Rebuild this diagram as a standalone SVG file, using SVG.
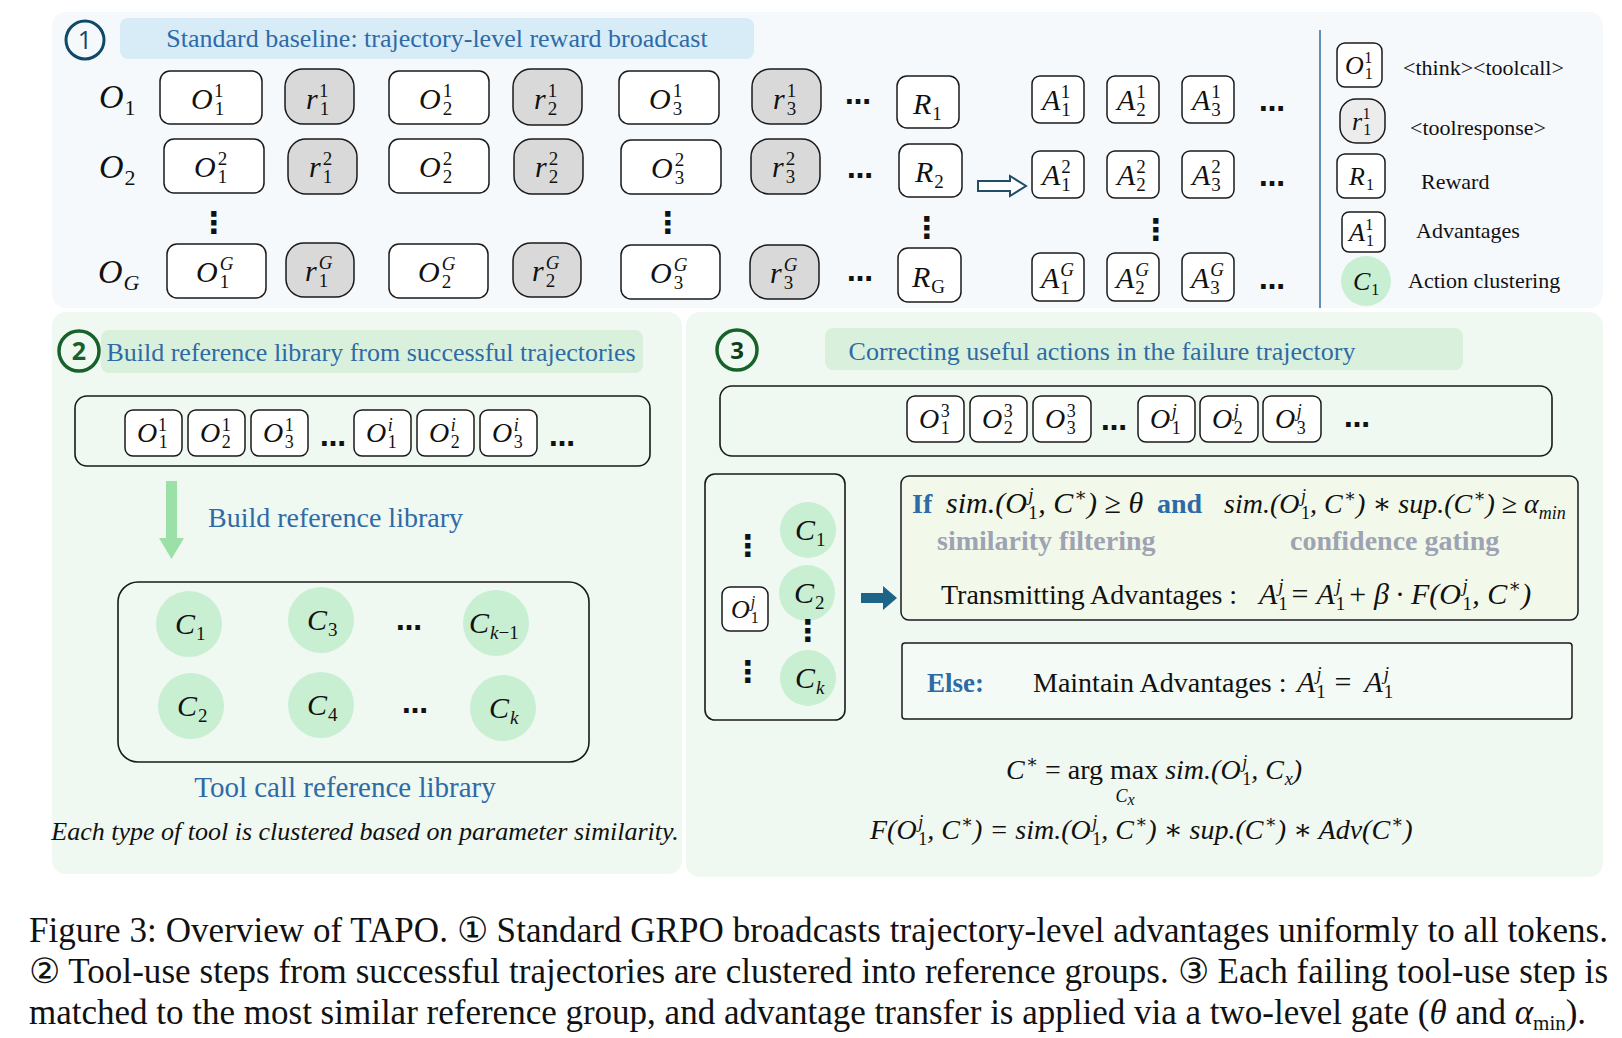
<svg xmlns="http://www.w3.org/2000/svg" width="1622" height="1038" viewBox="0 0 1622 1038">
<defs>
<style>
.t{font-family:"Liberation Serif","DejaVu Serif",serif;fill:#111;}
.m{font-family:"Liberation Serif","DejaVu Serif",serif;font-style:italic;fill:#111;}
.u{font-style:normal;}
.i{font-style:italic;}
.blue{fill:#2e6aa6;}
.bb{font-weight:bold;fill:#2e6aa6;}
.gray{font-weight:bold;fill:#9ea3b3;}
.f35{font-size:35px}.f34{font-size:34px}.f32{font-size:32px}.f30{font-size:30px}.f29{font-size:29px}.f28{font-size:28px}.f27{font-size:27px}.f26{font-size:26px}.f22{font-size:22px}.f21{font-size:21px}.f20{font-size:20px}.f19{font-size:19px}.f18{font-size:18px}.f17{font-size:17px}.f16{font-size:16px}
.box{fill:#fff;stroke:#1a1a1a;stroke-width:1.5;}
.rbox{fill:#d9d9d9;stroke:#1a1a1a;stroke-width:1.5;}
.lbox{fill:#ececec;stroke:#1a1a1a;stroke-width:1.5;}
.frame{fill:none;stroke:#1a1a1a;stroke-width:1.6;}
.cl{fill:#c8efd2;}
.dots{font-family:"DejaVu Sans",sans-serif;font-weight:bold;font-size:26px;fill:#111;}
.vd{font-family:"DejaVu Sans",sans-serif;font-weight:bold;font-size:30px;fill:#111;}
</style>
</defs>

<!-- panels -->
<rect x="52" y="12" width="1551" height="296" rx="14" fill="#f6f9fc"/>
<rect x="52" y="312" width="630" height="562" rx="14" fill="#eff8f1"/>
<rect x="686" y="312" width="917" height="565" rx="14" fill="#eff8f1"/>

<!-- panel 1 header -->
<g id="step1">
<circle cx="85" cy="40" r="19" fill="none" stroke="#0e4a68" stroke-width="3"/>
<text x="85" y="49" text-anchor="middle" font-family="Open Sans, sans-serif" font-size="25" fill="#0e4a68">1</text>
</g>
<g id="title1">
<rect x="120" y="18" width="634" height="41" rx="8" fill="#d8ecf8"/>
<text class="t blue f26" x="437" y="47" text-anchor="middle">Standard baseline: trajectory-level reward broadcast</text>
</g>

<!-- row labels -->
<g id="lab1"><text class="m f34" x="99" y="108">O<tspan class="u f22" dx="1" dy="7">1</tspan></text></g>
<g id="lab2"><text class="m f34" x="99" y="178">O<tspan class="u f22" dx="1" dy="7">2</tspan></text></g>
<g id="labG"><text class="m f34" x="98" y="283">O<tspan class="f22" dx="1" dy="7">G</tspan></text></g>

<!-- row 1 -->
<g id="o11"><rect class="box" x="160" y="71" width="102" height="53" rx="10"/><text class="m f30" x="191" y="109">O<tspan class="u f19" dx="2" dy="6">1</tspan><tspan class="u f19" dx="-9.5" dy="-18">1</tspan></text></g>
<g id="r11"><rect class="rbox" x="285" y="69" width="69" height="55" rx="18"/><text class="m f30" x="306" y="109">r<tspan class="u f19" dx="2" dy="6">1</tspan><tspan class="u f19" dx="-9.5" dy="-18">1</tspan></text></g>
<g id="o21"><rect class="box" x="389" y="71" width="100" height="53" rx="10"/><text class="m f30" x="419" y="109">O<tspan class="u f19" dx="2" dy="6">2</tspan><tspan class="u f19" dx="-9.5" dy="-18">1</tspan></text></g>
<g id="r21"><rect class="rbox" x="513" y="69" width="69" height="56" rx="18"/><text class="m f30" x="534" y="109">r<tspan class="u f19" dx="2" dy="6">2</tspan><tspan class="u f19" dx="-9.5" dy="-18">1</tspan></text></g>
<g id="o31"><rect class="box" x="619" y="71" width="100" height="53" rx="10"/><text class="m f30" x="649" y="109">O<tspan class="u f19" dx="2" dy="6">3</tspan><tspan class="u f19" dx="-9.5" dy="-18">1</tspan></text></g>
<g id="r31"><rect class="rbox" x="752" y="69" width="69" height="55" rx="18"/><text class="m f30" x="773" y="109">r<tspan class="u f19" dx="2" dy="6">3</tspan><tspan class="u f19" dx="-9.5" dy="-18">1</tspan></text></g>
<text class="dots" x="858" y="104" text-anchor="middle">…</text>
<g id="R1"><rect class="box" x="897" y="76" width="62" height="52" rx="10"/><text class="m f30" x="913" y="114">R<tspan class="u f19" dx="1" dy="6">1</tspan></text></g>
<g id="a11"><rect class="box" x="1032" y="76" width="52" height="47" rx="8"/><text class="m f30" x="1042" y="110">A<tspan class="u f19" dx="1" dy="6">1</tspan><tspan class="u f19" dx="-9.5" dy="-18">1</tspan></text></g>
<g id="a21"><rect class="box" x="1107" y="76" width="52" height="47" rx="8"/><text class="m f30" x="1117" y="110">A<tspan class="u f19" dx="1" dy="6">2</tspan><tspan class="u f19" dx="-9.5" dy="-18">1</tspan></text></g>
<g id="a31"><rect class="box" x="1182" y="76" width="52" height="47" rx="8"/><text class="m f30" x="1192" y="110">A<tspan class="u f19" dx="1" dy="6">3</tspan><tspan class="u f19" dx="-9.5" dy="-18">1</tspan></text></g>
<text class="dots" x="1272" y="111" text-anchor="middle">…</text>

<!-- row 2 -->
<g id="o12"><rect class="box" x="164" y="139" width="100" height="54" rx="10"/><text class="m f30" x="194" y="177">O<tspan class="u f19" dx="2" dy="6">1</tspan><tspan class="u f19" dx="-9.5" dy="-18">2</tspan></text></g>
<g id="r12"><rect class="rbox" x="288" y="139" width="69" height="55" rx="18"/><text class="m f30" x="309" y="177">r<tspan class="u f19" dx="2" dy="6">1</tspan><tspan class="u f19" dx="-9.5" dy="-18">2</tspan></text></g>
<g id="o22"><rect class="box" x="389" y="139" width="100" height="54" rx="10"/><text class="m f30" x="419" y="177">O<tspan class="u f19" dx="2" dy="6">2</tspan><tspan class="u f19" dx="-9.5" dy="-18">2</tspan></text></g>
<g id="r22"><rect class="rbox" x="514" y="139" width="69" height="55" rx="18"/><text class="m f30" x="535" y="177">r<tspan class="u f19" dx="2" dy="6">2</tspan><tspan class="u f19" dx="-9.5" dy="-18">2</tspan></text></g>
<g id="o32"><rect class="box" x="621" y="140" width="100" height="54" rx="10"/><text class="m f30" x="651" y="178">O<tspan class="u f19" dx="2" dy="6">3</tspan><tspan class="u f19" dx="-9.5" dy="-18">2</tspan></text></g>
<g id="r32"><rect class="rbox" x="751" y="139" width="69" height="55" rx="18"/><text class="m f30" x="772" y="177">r<tspan class="u f19" dx="2" dy="6">3</tspan><tspan class="u f19" dx="-9.5" dy="-18">2</tspan></text></g>
<text class="dots" x="860" y="178" text-anchor="middle">…</text>
<g id="R2"><rect class="box" x="899" y="144" width="63" height="53" rx="10"/><text class="m f30" x="915" y="182">R<tspan class="u f19" dx="1" dy="6">2</tspan></text></g>
<g id="a12"><rect class="box" x="1032" y="151" width="52" height="47" rx="8"/><text class="m f30" x="1042" y="185">A<tspan class="u f19" dx="1" dy="6">1</tspan><tspan class="u f19" dx="-9.5" dy="-18">2</tspan></text></g>
<g id="a22"><rect class="box" x="1107" y="151" width="52" height="47" rx="8"/><text class="m f30" x="1117" y="185">A<tspan class="u f19" dx="1" dy="6">2</tspan><tspan class="u f19" dx="-9.5" dy="-18">2</tspan></text></g>
<g id="a32"><rect class="box" x="1182" y="151" width="52" height="47" rx="8"/><text class="m f30" x="1192" y="185">A<tspan class="u f19" dx="1" dy="6">3</tspan><tspan class="u f19" dx="-9.5" dy="-18">2</tspan></text></g>
<text class="dots" x="1272" y="186" text-anchor="middle">…</text>

<!-- vertical dots -->
<text class="vd" x="214" y="233" text-anchor="middle">⋮</text>
<text class="vd" x="668" y="233" text-anchor="middle">⋮</text>
<text class="vd" x="927" y="238" text-anchor="middle">⋮</text>
<text class="vd" x="1156" y="240" text-anchor="middle">⋮</text>

<!-- row G -->
<g id="o1G"><rect class="box" x="167" y="244" width="99" height="54" rx="10"/><text class="m f30" x="196" y="282">O<tspan class="u f19" dx="2" dy="6">1</tspan><tspan class="f19" dx="-9.5" dy="-18">G</tspan></text></g>
<g id="r1G"><rect class="rbox" x="286" y="243" width="68" height="54" rx="18"/><text class="m f30" x="305" y="281">r<tspan class="u f19" dx="2" dy="6">1</tspan><tspan class="f19" dx="-9.5" dy="-18">G</tspan></text></g>
<g id="o2G"><rect class="box" x="389" y="244" width="99" height="54" rx="10"/><text class="m f30" x="418" y="282">O<tspan class="u f19" dx="2" dy="6">2</tspan><tspan class="f19" dx="-9.5" dy="-18">G</tspan></text></g>
<g id="r2G"><rect class="rbox" x="513" y="243" width="68" height="54" rx="18"/><text class="m f30" x="532" y="281">r<tspan class="u f19" dx="2" dy="6">2</tspan><tspan class="f19" dx="-9.5" dy="-18">G</tspan></text></g>
<g id="o3G"><rect class="box" x="621" y="245" width="99" height="54" rx="10"/><text class="m f30" x="650" y="283">O<tspan class="u f19" dx="2" dy="6">3</tspan><tspan class="f19" dx="-9.5" dy="-18">G</tspan></text></g>
<g id="r3G"><rect class="rbox" x="750" y="245" width="69" height="54" rx="18"/><text class="m f30" x="770" y="283">r<tspan class="u f19" dx="2" dy="6">3</tspan><tspan class="f19" dx="-9.5" dy="-18">G</tspan></text></g>
<text class="dots" x="860" y="281" text-anchor="middle">…</text>
<g id="RG"><rect class="box" x="898" y="248" width="63" height="54" rx="10"/><text class="m f30" x="912" y="287">R<tspan class="u f19" dx="1" dy="6">G</tspan></text></g>
<g id="a1G"><rect class="box" x="1032" y="253" width="52" height="48" rx="8"/><text class="m f30" x="1041" y="288">A<tspan class="u f19" dx="1" dy="6">1</tspan><tspan class="f19" dx="-9.5" dy="-18">G</tspan></text></g>
<g id="a2G"><rect class="box" x="1107" y="253" width="52" height="48" rx="8"/><text class="m f30" x="1116" y="288">A<tspan class="u f19" dx="1" dy="6">2</tspan><tspan class="f19" dx="-9.5" dy="-18">G</tspan></text></g>
<g id="a3G"><rect class="box" x="1182" y="253" width="52" height="48" rx="8"/><text class="m f30" x="1191" y="288">A<tspan class="u f19" dx="1" dy="6">3</tspan><tspan class="f19" dx="-9.5" dy="-18">G</tspan></text></g>
<text class="dots" x="1272" y="289" text-anchor="middle">…</text>

<!-- separator -->
<line x1="1320" y1="30" x2="1320" y2="308" stroke="#2e6da4" stroke-width="1.5"/>

<!-- legend -->
<g id="legO"><rect class="box" x="1337" y="43" width="45" height="44" rx="8"/><text class="m f26" x="1345" y="74">O<tspan class="u f16" dx="1" dy="5">1</tspan><tspan class="u f16" dx="-8" dy="-16">1</tspan></text><text class="t f22" x="1403" y="75">&lt;think&gt;&lt;toolcall&gt;</text></g>
<g id="legr"><rect class="lbox" x="1340" y="99" width="45" height="44" rx="16"/><text class="m f26" x="1352" y="130">r<tspan class="u f16" dx="1" dy="5">1</tspan><tspan class="u f16" dx="-8" dy="-16">1</tspan></text><text class="t f22" x="1410" y="135">&lt;toolresponse&gt;</text></g>
<g id="legR"><rect class="box" x="1337" y="154" width="48" height="44" rx="8"/><text class="m f26" x="1349" y="185">R<tspan class="u f16" dx="1" dy="5">1</tspan></text><text class="t f22" x="1421" y="189">Reward</text></g>
<g id="legA"><rect class="box" x="1342" y="212" width="43" height="40" rx="7"/><text class="m f26" x="1349" y="241">A<tspan class="u f16" dx="1" dy="5">1</tspan><tspan class="u f16" dx="-8" dy="-16">1</tspan></text><text class="t f22" x="1416" y="238">Advantages</text></g>
<g id="legC"><circle class="cl" cx="1366" cy="281" r="25"/><text class="m f26" x="1353" y="290">C<tspan class="u f16" dx="1" dy="5">1</tspan></text><text class="t f22" x="1408" y="288">Action clustering</text></g>

<!-- panel 2 -->
<g id="step2">
<circle cx="79" cy="351" r="20" fill="none" stroke="#17622a" stroke-width="3.5"/>
<text x="79" y="360" text-anchor="middle" font-family="Open Sans, sans-serif" font-weight="bold" font-size="25" fill="#17622a">2</text>
</g>
<g id="title2">
<rect x="101" y="330" width="542" height="43" rx="8" fill="#d9f1dc"/>
<text class="t blue f26" x="371" y="361" text-anchor="middle">Build reference library from successful trajectories</text>
</g>
<g id="seq2">
<rect class="frame" x="75" y="396" width="575" height="70" rx="12"/>
<g id="s2a"><rect class="box" x="125" y="410" width="57" height="46" rx="8"/><text class="m f28" x="137" y="442">O<tspan class="u f18" dx="1.5" dy="6">1</tspan><tspan class="u f18" dx="-9" dy="-17">1</tspan></text></g>
<g id="s2b"><rect class="box" x="188" y="410" width="57" height="46" rx="8"/><text class="m f28" x="200" y="442">O<tspan class="u f18" dx="1.5" dy="6">2</tspan><tspan class="u f18" dx="-9" dy="-17">1</tspan></text></g>
<g id="s2c"><rect class="box" x="251" y="410" width="57" height="46" rx="8"/><text class="m f28" x="263" y="442">O<tspan class="u f18" dx="1.5" dy="6">3</tspan><tspan class="u f18" dx="-9" dy="-17">1</tspan></text></g>
<text class="dots" x="333" y="446" text-anchor="middle">…</text>
<g id="s2d"><rect class="box" x="354" y="410" width="57" height="46" rx="8"/><text class="m f28" x="366" y="442">O<tspan class="u f18" dx="1.5" dy="6">1</tspan><tspan class="f18" dx="-9" dy="-17">i</tspan></text></g>
<g id="s2e"><rect class="box" x="417" y="410" width="57" height="46" rx="8"/><text class="m f28" x="429" y="442">O<tspan class="u f18" dx="1.5" dy="6">2</tspan><tspan class="f18" dx="-9" dy="-17">i</tspan></text></g>
<g id="s2f"><rect class="box" x="480" y="410" width="57" height="46" rx="8"/><text class="m f28" x="492" y="442">O<tspan class="u f18" dx="1.5" dy="6">3</tspan><tspan class="f18" dx="-9" dy="-17">i</tspan></text></g>
<text class="dots" x="562" y="446" text-anchor="middle">…</text>
</g>
<text class="t blue f28" x="208" y="527">Build reference library</text>
<g id="library">
<rect class="frame" x="118" y="582" width="471" height="180" rx="20"/>
<g id="c1"><circle class="cl" cx="189" cy="624" r="33"/><text class="m f30" x="175" y="634">C<tspan class="u f19" dx="1" dy="6">1</tspan></text></g>
<g id="c3"><circle class="cl" cx="321" cy="620" r="33"/><text class="m f30" x="307" y="630">C<tspan class="u f19" dx="1" dy="6">3</tspan></text></g>
<text class="dots" x="409" y="630" text-anchor="middle">…</text>
<g id="ck1"><circle class="cl" cx="496" cy="623" r="33"/><text class="m f30" x="469" y="633">C<tspan class="f19" dx="1" dy="6">k</tspan><tspan class="u f19">−1</tspan></text></g>
<g id="c2"><circle class="cl" cx="191" cy="706" r="33"/><text class="m f30" x="177" y="716">C<tspan class="u f19" dx="1" dy="6">2</tspan></text></g>
<g id="c4"><circle class="cl" cx="321" cy="705" r="33"/><text class="m f30" x="307" y="715">C<tspan class="u f19" dx="1" dy="6">4</tspan></text></g>
<text class="dots" x="415" y="713" text-anchor="middle">…</text>
<g id="ck"><circle class="cl" cx="503" cy="708" r="33"/><text class="m f30" x="489" y="718">C<tspan class="f19" dx="1" dy="6">k</tspan></text></g>
</g>
<text class="t blue f29" x="345" y="797" text-anchor="middle">Tool call reference library</text>
<text class="m" font-size="26" x="365" y="840" text-anchor="middle">Each type of tool is clustered based on parameter similarity.</text>

<!-- panel 3 -->
<g id="step3">
<circle cx="737" cy="350" r="20" fill="none" stroke="#17622a" stroke-width="3.5"/>
<text x="737" y="359" text-anchor="middle" font-family="Open Sans, sans-serif" font-weight="bold" font-size="24" fill="#0f3d1a">3</text>
</g>
<g id="title3">
<rect x="825" y="328" width="638" height="42" rx="8" fill="#d9f1dc"/>
<text class="t blue f26" x="1102" y="360" text-anchor="middle">Correcting useful actions in the failure trajectory</text>
</g>
<g id="seq3">
<rect class="frame" x="720" y="386" width="832" height="70" rx="12"/>
<g id="s3a"><rect class="box" x="907" y="396" width="57" height="46" rx="8"/><text class="m f28" x="919" y="428">O<tspan class="u f18" dx="1.5" dy="6">1</tspan><tspan class="u f18" dx="-9" dy="-17">3</tspan></text></g>
<g id="s3b"><rect class="box" x="970" y="396" width="57" height="46" rx="8"/><text class="m f28" x="982" y="428">O<tspan class="u f18" dx="1.5" dy="6">2</tspan><tspan class="u f18" dx="-9" dy="-17">3</tspan></text></g>
<g id="s3c"><rect class="box" x="1033" y="396" width="58" height="46" rx="8"/><text class="m f28" x="1045" y="428">O<tspan class="u f18" dx="1.5" dy="6">3</tspan><tspan class="u f18" dx="-9" dy="-17">3</tspan></text></g>
<text class="dots" x="1114" y="430" text-anchor="middle">…</text>
<g id="s3d"><rect class="box" x="1138" y="396" width="57" height="46" rx="8"/><text class="m f28" x="1150" y="428">O<tspan class="u f18" dx="1.5" dy="6">1</tspan><tspan class="f18" dx="-9" dy="-17">j</tspan></text></g>
<g id="s3e"><rect class="box" x="1200" y="396" width="58" height="46" rx="8"/><text class="m f28" x="1212" y="428">O<tspan class="u f18" dx="1.5" dy="6">2</tspan><tspan class="f18" dx="-9" dy="-17">j</tspan></text></g>
<g id="s3f"><rect class="box" x="1263" y="396" width="58" height="46" rx="8"/><text class="m f28" x="1275" y="428">O<tspan class="u f18" dx="1.5" dy="6">3</tspan><tspan class="f18" dx="-9" dy="-17">j</tspan></text></g>
<text class="dots" x="1357" y="427" text-anchor="middle">…</text>
</g>
<g id="clusters">
<rect class="frame" x="705" y="474" width="140" height="246" rx="10"/>
<text class="vd" x="748" y="556" text-anchor="middle">⋮</text>
<text class="vd" x="748" y="682" text-anchor="middle">⋮</text>
<g id="oj"><rect class="box" x="722" y="587" width="46" height="44" rx="8"/><text class="m f26" x="731" y="618">O<tspan class="u f16" dx="1" dy="5">1</tspan><tspan class="f16" dx="-8" dy="-16">j</tspan></text></g>
<g id="pc1"><circle class="cl" cx="808" cy="530" r="28"/><text class="m f30" x="795" y="540">C<tspan class="u f19" dx="1" dy="6">1</tspan></text></g>
<g id="pc2"><circle class="cl" cx="807" cy="593" r="28"/><text class="m f30" x="794" y="603">C<tspan class="u f19" dx="1" dy="6">2</tspan></text></g>
<text class="vd" x="808" y="641" text-anchor="middle">⋮</text>
<g id="pck"><circle class="cl" cx="808" cy="678" r="28"/><text class="m f30" x="795" y="688">C<tspan class="f19" dx="1" dy="6">k</tspan></text></g>
</g>
<g id="ifbox">
<rect x="901" y="476" width="677" height="144" rx="8" fill="#f3f9ea" stroke="#1a1a1a" stroke-width="1.5"/>
<text class="t bb f28" x="912" y="513">If</text>
<text class="m f30" x="946" y="513">sim.(O<tspan class="u f19" dx="1.5" dy="6">1</tspan><tspan class="f19" dx="-9.5" dy="-18">j</tspan><tspan dx="4.5" dy="12">, C</tspan><tspan class="u f19" dx="1" dy="-12">∗</tspan><tspan dy="12">) ≥ θ</tspan></text>
<text class="t bb f28" x="1157" y="513">and</text>
<text class="m f28" x="1224" y="513">sim.(O<tspan class="u f18" dx="1.5" dy="6">1</tspan><tspan class="f18" dx="-9" dy="-17">j</tspan><tspan dx="4" dy="11">, C</tspan><tspan class="u f18" dx="1" dy="-11">∗</tspan><tspan dy="11">) ∗ sup.(C</tspan><tspan class="u f18" dx="1" dy="-11">∗</tspan><tspan dy="11">) ≥ α</tspan><tspan class="f18" dy="6">min</tspan></text>
<text class="t gray f28" x="937" y="550">similarity filtering</text>
<text class="t gray f28" x="1290" y="550">confidence gating</text>
<text class="t f28" x="941" y="604">Transmitting Advantages :</text>
<text class="m f30" x="1259" y="604">A<tspan class="u f19" dx="1" dy="6">1</tspan><tspan class="f19" dx="-9.5" dy="-18">j</tspan><tspan class="u" dx="8" dy="12">=</tspan><tspan dx="8">A</tspan><tspan class="u f19" dx="1" dy="6">1</tspan><tspan class="f19" dx="-9.5" dy="-18">j</tspan><tspan class="u" dx="8" dy="12">+</tspan><tspan dx="8">β</tspan><tspan class="u" dx="6">·</tspan><tspan dx="6">F(O</tspan><tspan class="u f19" dx="1.5" dy="6">1</tspan><tspan class="f19" dx="-9.5" dy="-18">j</tspan><tspan dx="4.5" dy="12">, C</tspan><tspan class="u f19" dx="1" dy="-12">∗</tspan><tspan dy="12">)</tspan></text>
</g>
<g id="elsebox">
<rect x="902" y="643" width="670" height="76" rx="3" fill="#f4faf5" stroke="#1a1a1a" stroke-width="1.5"/>
<text class="t bb f27" x="927" y="692">Else:</text>
<text class="t f28" x="1033" y="692">Maintain Advantages :</text>
<text class="m f30" x="1297" y="692">A<tspan class="u f19" dx="1" dy="6">1</tspan><tspan class="f19" dx="-9.5" dy="-18">j</tspan><tspan class="u" dx="13" dy="12">=</tspan><tspan dx="13">A</tspan><tspan class="u f19" dx="1" dy="6">1</tspan><tspan class="f19" dx="-9.5" dy="-18">j</tspan></text>
</g>
<g id="formulas">
<text class="m f28" x="1006" y="779">C<tspan class="u f18" dx="1" dy="-11">∗</tspan><tspan class="u" dy="11"> = arg max </tspan>sim.(O<tspan class="u f18" dx="1.5" dy="6">1</tspan><tspan class="f18" dx="-9" dy="-17">j</tspan><tspan dx="4" dy="11">, C</tspan><tspan class="f18" dx="1" dy="6">x</tspan><tspan dy="-6">)</tspan></text>
<text class="m f18" x="1125" y="802" text-anchor="middle">C<tspan class="f16" dy="3">x</tspan></text>
<text class="m f28" x="870" y="839">F(O<tspan class="u f18" dx="1.5" dy="6">1</tspan><tspan class="f18" dx="-9" dy="-17">j</tspan><tspan dx="4" dy="11">, C</tspan><tspan class="u f18" dx="1" dy="-11">∗</tspan><tspan dy="11">) = sim.(O</tspan><tspan class="u f18" dx="1.5" dy="6">1</tspan><tspan class="f18" dx="-9" dy="-17">j</tspan><tspan dx="4" dy="11">, C</tspan><tspan class="u f18" dx="1" dy="-11">∗</tspan><tspan dy="11">) ∗ sup.(C</tspan><tspan class="u f18" dx="1" dy="-11">∗</tspan><tspan dy="11">) ∗ Adv(C</tspan><tspan class="u f18" dx="1" dy="-11">∗</tspan><tspan dy="11">)</tspan></text>
</g>

<!-- connectors -->
<g id="connectors">
<path d="M978,181 H1010 V176 L1026,186 L1010,196 V191 H978 Z" fill="#fff" stroke="#1f4e66" stroke-width="2"/>
<path d="M166,481 H177 V538 H184 L171.5,559 L159,538 H166 Z" fill="#9be0a6"/>
<path d="M861,593 H883 V586 L897,598 L883,610 V603 H861 Z" fill="#1d6488"/>
</g>

<!-- caption -->
<g id="caption">
<text class="t f35" x="29" y="942" textLength="1579" lengthAdjust="spacing">Figure 3: Overview of TAPO. ① Standard GRPO broadcasts trajectory-level advantages uniformly to all tokens.</text>
<text class="t f35" x="29" y="983" textLength="1579" lengthAdjust="spacing">② Tool-use steps from successful trajectories are clustered into reference groups. ③ Each failing tool-use step is</text>
<text class="t f35" x="29" y="1024">matched to the most similar reference group, and advantage transfer is applied via a two-level gate (<tspan class="i">θ</tspan> and <tspan class="i">α</tspan><tspan class="f21" dy="6">min</tspan><tspan dy="-6">).</tspan></text>
</g>
</svg>
